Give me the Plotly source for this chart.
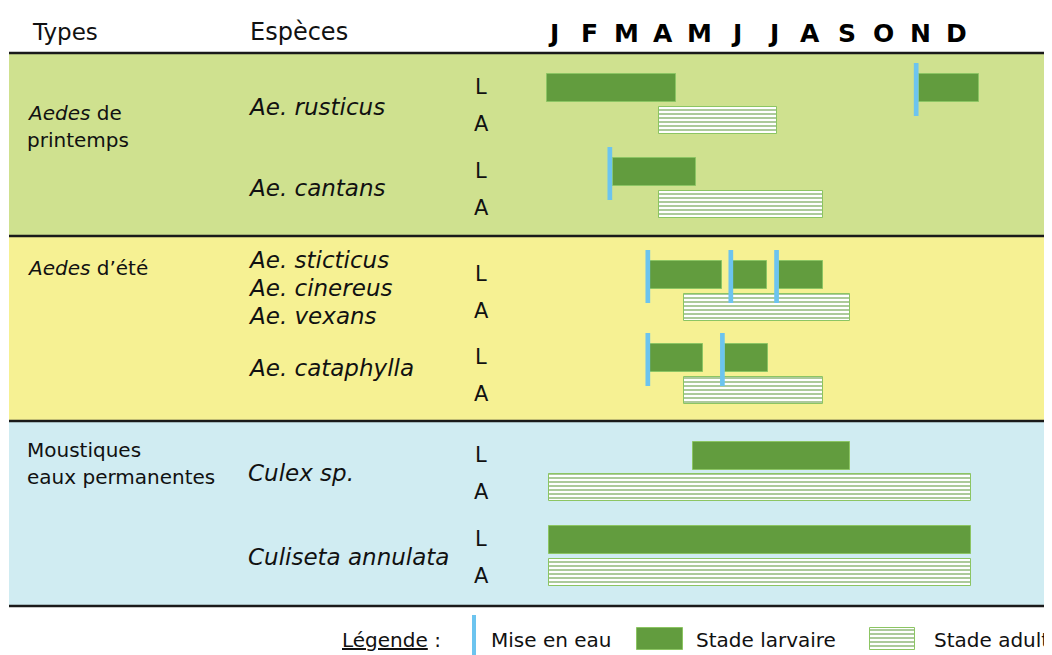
import plotly.graph_objects as go

# --- data -------------------------------------------------------------
months = ["J", "F", "M", "A", "M", "J", "J", "A", "S", "O", "N", "D"]

species = ["Ae. rusticus", "Ae. cantans", "Ae. sticticus", "Ae. cataphylla",
           "Culex sp.", "Culiseta annulata"]

# larval periods (month units, 0 = 1 Jan, 12 = 31 Dec)
larval = [
    [(-0.05, 3.60), (10.51, 12.23)],
    [(1.81, 4.18)],
    [(2.87, 4.91), (5.23, 6.20), (6.54, 7.78)],
    [(2.87, 4.38), (5.00, 6.24)],
    [(4.10, 8.56)],
    [(0.0, 12.0)],
]

# adult periods
adult = [(3.13, 6.47), (3.13, 7.78), (3.85, 8.56), (3.85, 7.78), (0.0, 12.0), (0.0, 12.0)]

# mise en eau (flooding) dates
mise_en_eau = [[10.44], [1.73], [2.81, 5.17, 6.47], [2.81, 4.93], [], []]

# --- layout helpers ----------------------------------------------------
W, H = 1052, 655
OFF = 8                      # page margin around the plot div
X0_PX, PX_PER_MONTH = 549, 35.17
FONT = "DejaVu Sans"

def px2m(p):
    return (p - X0_PX) / PX_PER_MONTH

def xp(p):
    return (p - OFF) / W

row_l = [88, 172, 275, 358, 455.5, 540]   # larval row centres (px from top)
row_a = [y + 32 for y in row_l]

GREEN = "#629c3e"
BAR_EDGE = "#8cc563"
BLUE = "#6cc4ef"

fig = go.Figure()

# larval bars
lx, lb, ly = [], [], []
for i, spans in enumerate(larval):
    for s, e in spans:
        lb.append(s)
        lx.append(e - s)
        ly.append(row_l[i])
fig.add_trace(go.Bar(orientation="h", x=lx, base=lb, y=ly, width=28,
                     marker=dict(color=GREEN, line=dict(color=BAR_EDGE, width=1)),
                     showlegend=False, hoverinfo="skip"))

# adult bars (hatched)
hatch = dict(shape="-", size=4, solidity=0.5, fgcolor="#5a9638", bgcolor="#ffffff")
fig.add_trace(go.Bar(orientation="h", x=[e - s for s, e in adult], base=[s for s, e in adult],
                     y=row_a, width=27,
                     marker=dict(color="#ffffff", pattern=hatch, line=dict(color=BAR_EDGE, width=1)),
                     showlegend=False, hoverinfo="skip"))

# mise en eau markers
bx, by = [], []
for i, dates in enumerate(mise_en_eau):
    for d in dates:
        bx += [d, d, None]
        by += [row_l[i] - 25, row_l[i] + 28, None]
fig.add_trace(go.Scatter(x=bx, y=by, mode="lines", line=dict(color=BLUE, width=4.7),
                         showlegend=False, hoverinfo="skip"))

# --- legend swatches ---------------------------------------------------
fig.add_trace(go.Scatter(x=[px2m(474), px2m(474)], y=[615, 656], mode="lines",
                         line=dict(color=BLUE, width=4), showlegend=False, hoverinfo="skip"))
fig.add_trace(go.Bar(orientation="h", x=[px2m(683) - px2m(637)], base=[px2m(637)], y=[639], width=22,
                     marker=dict(color=GREEN, line=dict(color=BAR_EDGE, width=1)),
                     showlegend=False, hoverinfo="skip"))
fig.add_trace(go.Bar(orientation="h", x=[px2m(915) - px2m(870)], base=[px2m(870)], y=[639], width=22,
                     marker=dict(color="#ffffff", pattern=hatch, line=dict(color=BAR_EDGE, width=1)),
                     showlegend=False, hoverinfo="skip"))

# --- background bands & rules ----------------------------------------
bands = [(54, 235, "#cfe18f"), (237, 420, "#f6f193"), (422, 605, "#d0ecf2")]
for y0, y1, c in bands:
    fig.add_shape(type="rect", xref="paper", yref="y", x0=xp(9), x1=1, y0=y0, y1=y1,
                  fillcolor=c, line_width=0, layer="below")
for y in [53, 236, 421, 606]:
    fig.add_shape(type="line", xref="paper", yref="y", x0=xp(9), x1=1, y0=y, y1=y,
                  line=dict(color="#1a1a1a", width=2.5), layer="below")

# --- text --------------------------------------------------------------
def txt(x, y, s, size, anchor="left", color="#111111"):
    fig.add_annotation(x=xp(x), y=y, xref="paper", yref="y", text=s, showarrow=False,
                       xanchor=anchor, yanchor="middle",
                       font=dict(family=FONT, size=size, color=color))

txt(30, 32, "Types", 23)
txt(248, 32, "Espèces", 24)
for i, m in enumerate(months):
    txt(553 + 36.7 * i, 33, "<b>" + m + "</b>", 25, anchor="center", color="#000000")

txt(25, 113, "<i>Aedes</i> de", 20)
txt(25, 140, "printemps", 20)
txt(25, 268, "<i>Aedes</i> d’été", 20)
txt(25, 450, "Moustiques", 20)
txt(25, 477, "eaux permanentes", 20)

species_rows = [107, 188, 260, 368, 473, 557]
for i, s in enumerate(species):
    txt(246, species_rows[i], "<i>" + s + "</i>", 23)
txt(246, 288, "<i>Ae. cinereus</i>", 23)
txt(246, 316, "<i>Ae. vexans</i>", 23)

for i in range(len(species)):
    txt(481, row_l[i] - 1, "L", 21, anchor="center")
    txt(481, row_a[i] + 4, "A", 21, anchor="center")

txt(340, 640, "<u>Légende</u> :", 20)
txt(489, 640, "Mise en eau", 20)
txt(694, 640, "Stade larvaire", 20)
txt(932, 640, "Stade adulte", 20)

fig.update_layout(
    width=W, height=H,
    margin=dict(l=0, r=0, t=0, b=0),
    paper_bgcolor="white", plot_bgcolor="white",
    barmode="overlay", bargap=0,
    xaxis=dict(range=[px2m(OFF), px2m(W + OFF)], visible=False, showgrid=False, zeroline=False),
    yaxis=dict(range=[H + OFF, OFF], visible=False, showgrid=False, zeroline=False),
)

fig.write_html("out.html")
